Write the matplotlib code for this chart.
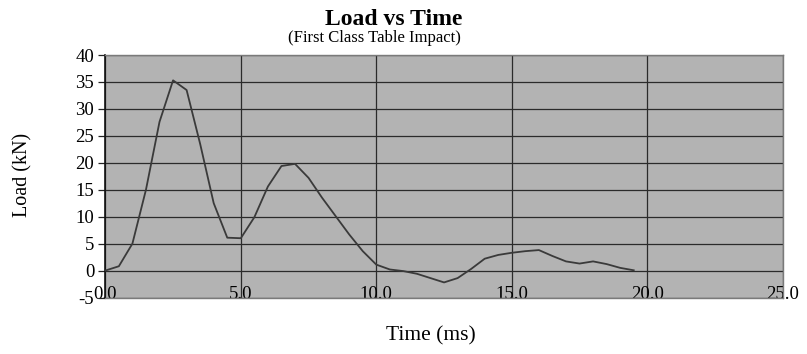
import matplotlib
matplotlib.use('Agg')
import matplotlib.pyplot as plt

# Tempo (ms) e carga (kN)
time_ms = [0.0, 0.5, 1.0, 1.5, 2.0, 2.5, 3.0, 3.5, 4.0, 4.5, 5.0, 5.5, 6.0, 6.5,
           7.0, 7.5, 8.0, 8.5, 9.0, 9.5, 10.0, 10.5, 11.0, 11.5, 12.0, 12.5,
           13.0, 13.5, 14.0, 14.5, 15.0, 15.5, 16.0, 16.5, 17.0, 17.5, 18.0,
           18.5, 19.0, 19.5]
load_kn = [0.0, 0.8, 5.0, 15.0, 27.6, 35.3, 33.5, 23.5, 12.5, 6.1, 6.0, 9.9,
           15.6, 19.4, 19.8, 17.2, 13.5, 10.1, 6.7, 3.6, 1.1, 0.2, -0.1, -0.6,
           -1.4, -2.2, -1.4, 0.3, 2.2, 2.9, 3.3, 3.6, 3.8, 2.7, 1.7, 1.3, 1.7,
           1.2, 0.5, 0.05]

x_ticks = [0, 5, 10, 15, 20, 25]
x_tick_labels = ['0.0', '5.0', '10.0', '15.0', '20.0', '25.0']
y_ticks = [-5, 0, 5, 10, 15, 20, 25, 30, 35, 40]

plt.rcParams['font.family'] = ['Liberation Serif', 'DejaVu Serif']
plt.rcParams['axes.unicode_minus'] = False

fig = plt.figure(figsize=(8.07, 3.54), dpi=100)
ax = fig.add_axes([0.1305, 0.1596, 0.8395, 0.685])
ax.set_facecolor('#b3b3b3')

ax.plot(time_ms, load_kn, color='#3a3a3a', linewidth=1.3, zorder=3)

ax.set_xlim(0, 25)
ax.set_ylim(-5, 40)
ax.set_xticks(x_ticks)
ax.set_xticklabels(x_tick_labels)
ax.set_yticks(y_ticks)

ax.grid(True, color='#2b2b2b', linewidth=0.9, zorder=1)
ax.set_axisbelow(True)

for side in ['top', 'right', 'bottom']:
    ax.spines[side].set_color('#7a7a7a')
    ax.spines[side].set_linewidth(1.0)
ax.spines['left'].set_color('#111111')
ax.spines['left'].set_linewidth(1.2)

ax.tick_params(axis='x', length=0, pad=-8.5, labelsize=13.5)
ax.tick_params(axis='y', length=5, width=0.9, color='#222222', pad=3,
               labelsize=13.5)

fig.text(0.488, 0.93, 'Load vs Time', ha='center', va='baseline',
         fontsize=17, fontweight='bold')
fig.text(0.4635, 0.882, '(First Class Table Impact)', ha='center',
         va='baseline', fontsize=12)
fig.text(0.0285, 0.507, 'Load (kN)', ha='center', va='center',
         rotation=90, fontsize=14.5)
fig.text(0.534, 0.05, 'Time (ms)', ha='center', va='center', fontsize=15.5)

fig.savefig('out.png', dpi=100)
